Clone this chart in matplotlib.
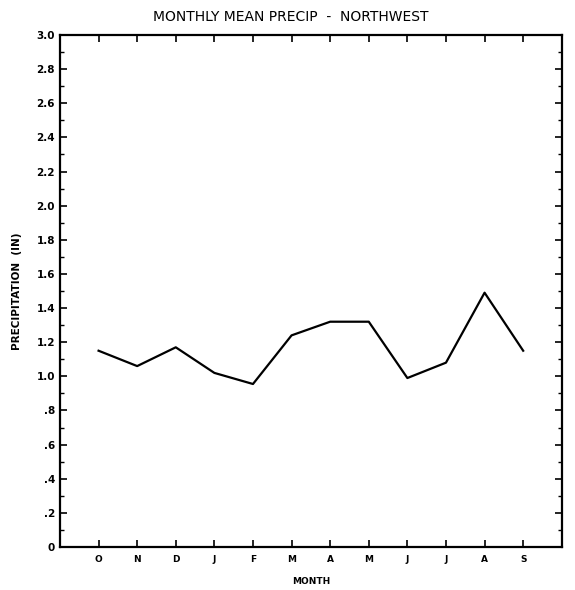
import numpy as np
import matplotlib
matplotlib.use("Agg")
import matplotlib.pyplot as plt
from matplotlib.ticker import MultipleLocator

# water year months, Oct -> Sep
months = ["O", "N", "D", "J", "F", "M", "A", "M", "J", "J", "A", "S"]
precip = [1.15, 1.06, 1.17, 1.02, 0.955, 1.24, 1.32, 1.32, 0.99, 1.08, 1.49, 1.15]

ytick_vals = [0, 0.2, 0.4, 0.6, 0.8, 1.0, 1.2, 1.4, 1.6, 1.8, 2.0, 2.2, 2.4, 2.6, 2.8, 3.0]
ytick_labels = ["0", ".2", ".4", ".6", ".8", "1.0", "1.2", "1.4", "1.6", "1.8",
                "2.0", "2.2", "2.4", "2.6", "2.8", "3.0"]

plt.rcParams['font.family'] = 'DejaVu Sans'
plt.rcParams['font.weight'] = 'bold'

fig = plt.figure(figsize=(5.75, 5.9), dpi=100)
ax = fig.add_axes([0.1043, 0.0729, 0.8727, 0.8678])

x = np.arange(1, len(months) + 1)
ax.plot(x, precip, color='black', lw=1.6)

ax.set_xlim(0, 13)
ax.set_ylim(0, 3.0)
ax.set_xticks(x)
ax.set_xticklabels(months, fontsize=6.5, fontweight='bold')
ax.set_yticks(ytick_vals)
ax.set_yticklabels(ytick_labels, fontsize=7.5, fontweight='bold')
ax.yaxis.set_minor_locator(MultipleLocator(0.1))

ax.tick_params(axis='both', which='major', direction='in', length=5, width=1.2,
               top=True, right=True, labelright=False, labeltop=False)
ax.tick_params(axis='y', which='minor', direction='in', length=3, width=1.0,
               right=True)
ax.tick_params(axis='x', which='major', pad=6)
for s in ax.spines.values():
    s.set_linewidth(1.6)

ax.set_xlabel("MONTH", fontsize=6.5, fontweight='bold')
ax.xaxis.set_label_coords(0.5, -0.058)
ax.set_ylabel("PRECIPITATION  (IN)", fontsize=7.5, fontweight='bold')
ax.yaxis.set_label_coords(-0.075, 0.5)
ax.set_title("MONTHLY MEAN PRECIP  -  NORTHWEST", fontsize=10, x=0.46, pad=10)

fig.savefig("out.png", dpi=100)
